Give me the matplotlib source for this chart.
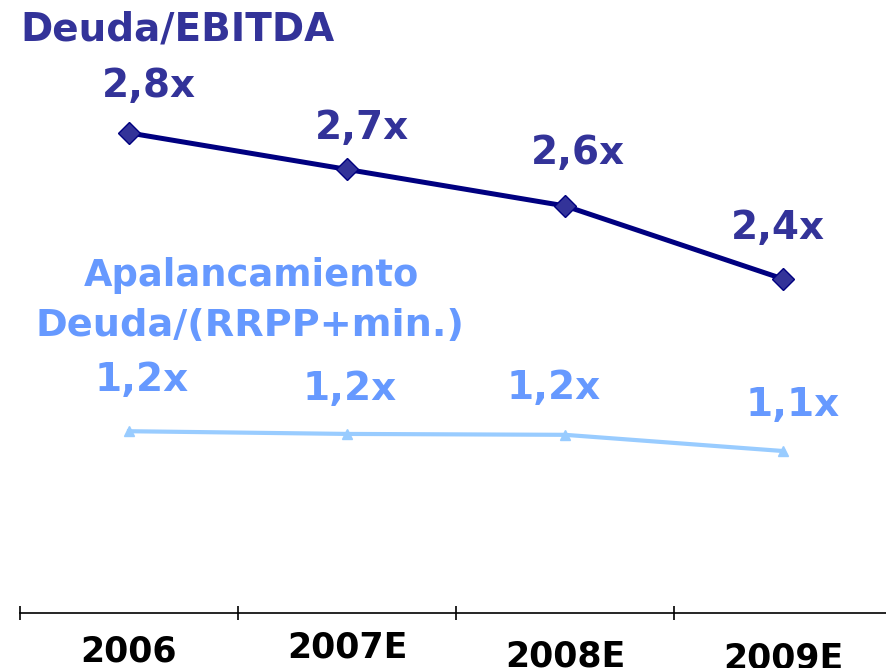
import matplotlib.pyplot as plt
import matplotlib.transforms as mtransforms

years = ["2006", "2007E", "2008E", "2009E"]
deuda_ebitda = [2.8, 2.7, 2.6, 2.4]
apalancamiento = [1.21, 1.195, 1.19, 1.10]

DARK_LINE = "#000080"
DARK_TEXT = "#333399"
LIGHT_LINE = "#99CCFF"
LIGHT_TEXT = "#6699FF"

# label offsets (points) relative to each marker
dark_offsets = [(14, 34), (11, 30), (9, 38), (-4, 37)]
light_offsets = [(9, 37), (2, 32), (-8, 34), (7, 33)]
year_offsets = [-28, -25, -31, -33]

fig = plt.figure(figsize=(8.87, 6.68), dpi=100)
ax = fig.add_axes([20 / 887, 55 / 668, 872 / 887, 613 / 668])
ax2 = ax.twinx()

x = list(range(len(years)))

ax.plot(x, deuda_ebitda, color=DARK_LINE, lw=3.6, marker="D", ms=11,
        mfc=DARK_TEXT, mec=DARK_LINE, mew=1, zorder=3)
ax2.plot(x, apalancamiento, color=LIGHT_LINE, lw=3, marker="^", ms=7,
         mfc=LIGHT_LINE, mec=LIGHT_LINE, zorder=3)

ax.set_ylim(1.485, 3.164)
ax2.set_ylim(0.2, 3.606)
ax.set_xlim(-0.5, 3.5)

for xi, v, (dx, dy) in zip(x, deuda_ebitda, dark_offsets):
    ax.annotate(f"{v:.1f}x".replace(".", ","), (xi, v), xytext=(dx, dy),
                textcoords="offset points", ha="center", va="center",
                fontsize=28, fontweight="bold", color=DARK_TEXT)
for xi, v, (dx, dy) in zip(x, apalancamiento, light_offsets):
    ax2.annotate(f"{v:.1f}x".replace(".", ","), (xi, v), xytext=(dx, dy),
                 textcoords="offset points", ha="center", va="center",
                 fontsize=28, fontweight="bold", color=LIGHT_TEXT)

fig.text(20 / 887, 1 - 30 / 668, "Deuda/EBITDA", ha="left", va="center",
         fontsize=28, fontweight="bold", color=DARK_TEXT)
fig.text(251 / 887, 1 - 276 / 668, "Apalancamiento", ha="center", va="center",
         fontsize=26.5, fontweight="bold", color=LIGHT_TEXT)
fig.text(250 / 887, 1 - 326 / 668, "Deuda/(RRPP+min.)", ha="center", va="center",
         fontsize=27.5, fontweight="bold", color=LIGHT_TEXT)

# axis line with ticks on category boundaries
for a in (ax, ax2):
    for side in ("top", "right", "left"):
        a.spines[side].set_visible(False)
    a.set_yticks([])
ax2.spines["bottom"].set_visible(False)
ax.spines["bottom"].set_linewidth(1.2)
ax.set_xticks([-0.5, 0.5, 1.5, 2.5, 3.5])
ax.set_xticklabels([])
ax.tick_params(axis="x", direction="inout", length=10, width=1.2)

trans = mtransforms.blended_transform_factory(ax.transData, ax.transAxes)
for xi, label, dy in zip(x, years, year_offsets):
    ax.annotate(label, (xi, 0), xycoords=trans, xytext=(0, dy),
                textcoords="offset points", ha="center", va="center",
                fontsize=25, fontweight="bold", color="black")

fig.savefig("out.png", dpi=100)
